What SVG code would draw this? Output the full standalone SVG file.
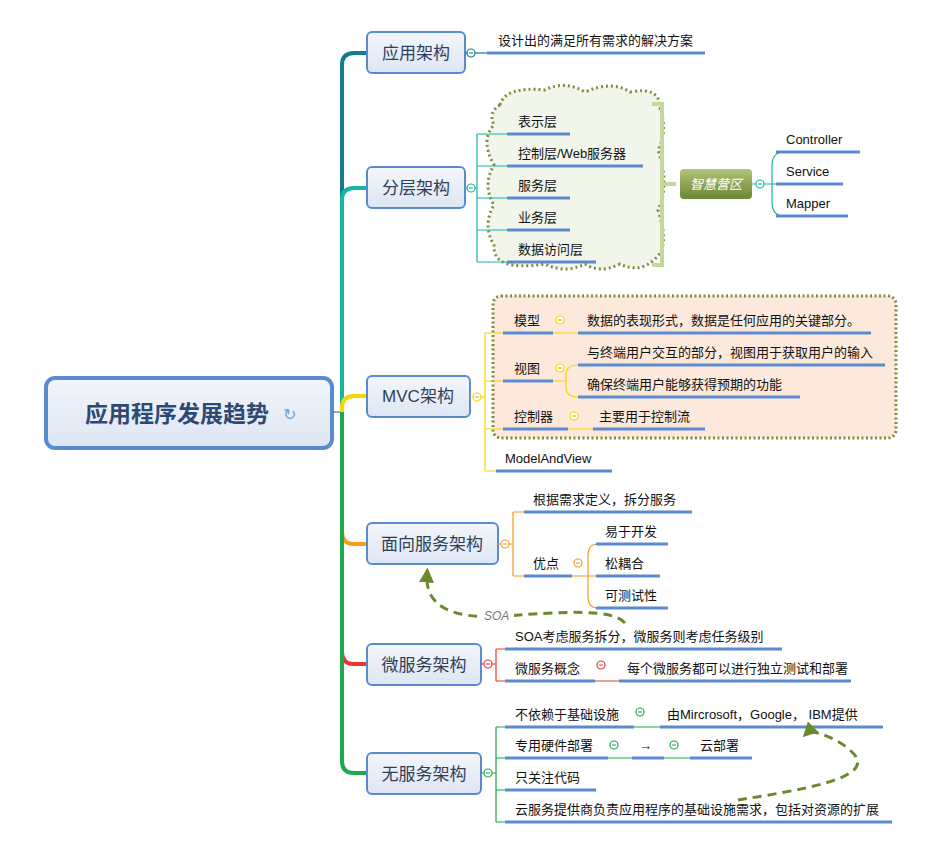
<svg xmlns="http://www.w3.org/2000/svg" width="951" height="845" viewBox="0 0 951 845">
<defs>
<linearGradient id="nodeG" x1="0" y1="0" x2="0" y2="1"><stop offset="0" stop-color="#f3f6fb"/><stop offset="1" stop-color="#dde6f3"/></linearGradient>
<linearGradient id="zhG" x1="0" y1="0" x2="0" y2="1"><stop offset="0" stop-color="#b2c37a"/><stop offset="1" stop-color="#6c8732"/></linearGradient>
<marker id="arr" viewBox="0 0 10 10" refX="5" refY="5" markerWidth="5" markerHeight="5" orient="auto"><path d="M0,0 L10,5 L0,10 z" fill="#6b8a2e"/></marker>
</defs>
<style>
text{font-family:"Liberation Sans","Noto Sans CJK SC",sans-serif;fill:#111;}
.t{font-size:13px;}
.n{font-size:17px;fill:#2f3f5a;text-anchor:middle;}
.box{fill:url(#nodeG);stroke:#5a8ad0;stroke-width:2;}
.ul{stroke:#5a8ad0;stroke-width:3;fill:none;}
.c{fill:#fff;stroke-width:1.2;}
.ln{fill:none;stroke-width:1.2;}
.dash{fill:none;stroke:#6b8a2e;stroke-width:3;stroke-dasharray:9,6;}
</style>
<rect width="951" height="845" fill="#fff"/>
<g id="connectors">
<path d="M333,412 H342" stroke="#5a8ad0" stroke-width="1.5" fill="none"/>
<path d="M342,412 V65 Q342,53 354,53 H367" stroke="#137a8f" stroke-width="4" fill="none"/>
<path d="M342,412 V200 Q342,188 354,188 H367" stroke="#16b6a4" stroke-width="4" fill="none"/>
<path d="M342,412 V532 Q342,544 354,544 H367" stroke="#f79a1f" stroke-width="4" fill="none"/>
<path d="M342,412 V652 Q342,664 354,664 H367" stroke="#ee3333" stroke-width="4" fill="none"/>
<path d="M342,412 V761 Q342,773 354,773 H367" stroke="#1ba94c" stroke-width="4" fill="none"/>
<path d="M342,412 V408 Q342,396 354,396 H367" stroke="#f5d800" stroke-width="4" fill="none"/>
</g>
<g id="root">
<rect x="46" y="378" width="286" height="70" rx="9" fill="url(#nodeG)" stroke="#5a8ad0" stroke-width="4"/>
<text x="177" y="422" style="font-size:23px;font-weight:bold;fill:#2d4a75;text-anchor:middle">应用程序发展趋势</text>
<text x="289" y="420" style="font-size:16px;fill:#6a9ee0;text-anchor:middle">↻</text>
</g>
<g id="n1">
<rect class="box" x="367" y="32" width="98" height="41" rx="5"/>
<text class="n" x="416" y="59">应用架构</text>
<path class="ln" stroke="#137a8f" d="M465,53 H487"/>
<circle class="c" stroke="#137a8f" cx="471" cy="53" r="4"/><path d="M469,53 h4" stroke="#137a8f"/>
<line class="ul" x1="487" y1="53" x2="705" y2="53"/>
<text class="t" x="498" y="45">设计出的满足所有需求的解决方案</text>
</g>
<g id="n2">
<path d="M500,105 Q505,86 545,90 Q565,80 585,92 Q612,80 630,92 Q660,86 660,108 Q668,130 658,150 Q670,185 658,210 Q670,245 656,258 Q640,274 620,264 Q600,274 585,264 Q565,274 545,264 Q492,272 494,245 Q482,225 494,205 Q482,185 494,165 Q480,140 494,125 Q488,112 500,105 z" fill="#f2f6ea" stroke="#7f8c3a" stroke-width="3" stroke-dasharray="2,3"/>
<rect class="box" x="367" y="167" width="98" height="41" rx="5"/>
<text class="n" x="416" y="194">分层架构</text>
<path class="ln" stroke="#16b6a4" d="M465,188 H477 M477,134 V262 M477,134 H507 M477,166 H507 M477,198 H507 M477,230 H507 M477,262 H507"/>
<circle class="c" stroke="#16b6a4" cx="471" cy="188" r="4"/><path d="M469,188 h4" stroke="#16b6a4"/>
<line class="ul" x1="507" y1="134" x2="570" y2="134"/>
<line class="ul" x1="507" y1="166" x2="643" y2="166"/>
<line class="ul" x1="507" y1="198" x2="570" y2="198"/>
<line class="ul" x1="507" y1="230" x2="570" y2="230"/>
<line class="ul" x1="507" y1="262" x2="596" y2="262"/>
<text class="t" x="518" y="126">表示层</text>
<text class="t" x="518" y="158">控制层/Web服务器</text>
<text class="t" x="518" y="190">服务层</text>
<text class="t" x="518" y="222">业务层</text>
<text class="t" x="518" y="254">数据访问层</text>
<path d="M652,104 H662 V265 H652 M662,184 H676" fill="none" stroke="#c4d89a" stroke-width="4"/>
<rect x="680" y="169" width="72" height="30" rx="4" fill="url(#zhG)"/>
<text x="716" y="189" style="font-size:13px;font-style:italic;fill:#fff;text-anchor:middle">智慧营区</text>
<path class="ln" stroke="#16b6a4" d="M752,184 H772 M784,152 Q772,152 772,166 V202 Q772,216 784,216 M772,184 H778"/>
<circle class="c" stroke="#16b6a4" cx="760" cy="184" r="4"/><path d="M758,184 h4" stroke="#16b6a4"/>
<line class="ul" x1="776" y1="152" x2="860" y2="152"/>
<line class="ul" x1="776" y1="184" x2="843" y2="184"/>
<line class="ul" x1="776" y1="216" x2="848" y2="216"/>
<text class="t" x="786" y="144">Controller</text>
<text class="t" x="786" y="176">Service</text>
<text class="t" x="786" y="208">Mapper</text>
</g>
<g id="n3">
<rect x="493" y="296" width="403" height="142" rx="8" fill="#fde9db" stroke="#7f8c3a" stroke-width="3" stroke-dasharray="2,2.5"/>
<rect class="box" x="367" y="376" width="103" height="41" rx="5"/>
<text class="n" x="418" y="402">MVC架构</text>
<path class="ln" stroke="#f5d800" d="M470,397 H485 M485,333 V471 M485,333 H503 M485,381 H503 M485,429 H503 M485,471 H496 M553,333 H578 M553,381 H566 M578,365 Q566,365 566,375 V387 Q566,397 578,397 M568,429 H593"/>
<circle class="c" stroke="#f5d800" cx="477" cy="397" r="4"/><path d="M475,397 h4" stroke="#e0b800"/>
<line class="ul" x1="503" y1="333" x2="553" y2="333"/>
<line class="ul" x1="578" y1="333" x2="871" y2="333"/>
<line class="ul" x1="503" y1="381" x2="553" y2="381"/>
<line class="ul" x1="578" y1="365" x2="885" y2="365"/>
<line class="ul" x1="578" y1="397" x2="800" y2="397"/>
<line class="ul" x1="503" y1="429" x2="568" y2="429"/>
<line class="ul" x1="593" y1="429" x2="705" y2="429"/>
<line class="ul" x1="496" y1="471" x2="612" y2="471"/>
<circle class="c" stroke="#f5d800" cx="560" cy="320" r="4"/><path d="M558,320 h4" stroke="#e0b800"/>
<circle class="c" stroke="#f5d800" cx="560" cy="368" r="4"/><path d="M558,368 h4" stroke="#e0b800"/>
<circle class="c" stroke="#f5d800" cx="574" cy="416" r="4"/><path d="M572,416 h4" stroke="#e0b800"/>
<text class="t" x="514" y="325">模型</text>
<text class="t" x="587" y="325">数据的表现形式，数据是任何应用的关键部分。</text>
<text class="t" x="514" y="373">视图</text>
<text class="t" x="587" y="357">与终端用户交互的部分，视图用于获取用户的输入</text>
<text class="t" x="587" y="389">确保终端用户能够获得预期的功能</text>
<text class="t" x="514" y="421">控制器</text>
<text class="t" x="599" y="421">主要用于控制流</text>
<text class="t" x="505" y="463">ModelAndView</text>
</g>
<g id="n4">
<rect class="box" x="367" y="523" width="131" height="41" rx="5"/>
<text class="n" x="432" y="550">面向服务架构</text>
<path class="ln" stroke="#f79a1f" d="M498,544 H513 M513,512 V576 M513,512 H524 M513,576 H524 M572,576 H596 M598,544 Q588,544 588,556 V596 Q588,608 598,608"/>
<circle class="c" stroke="#f79a1f" cx="505" cy="544" r="4"/><path d="M503,544 h4" stroke="#f79a1f"/>
<line class="ul" x1="524" y1="512" x2="692" y2="512"/>
<line class="ul" x1="524" y1="576" x2="572" y2="576"/>
<line class="ul" x1="596" y1="544" x2="668" y2="544"/>
<line class="ul" x1="596" y1="576" x2="660" y2="576"/>
<line class="ul" x1="596" y1="608" x2="668" y2="608"/>
<circle class="c" stroke="#f79a1f" cx="578" cy="563" r="4"/><path d="M576,563 h4" stroke="#f79a1f"/>
<text class="t" x="533" y="504">根据需求定义，拆分服务</text>
<text class="t" x="533" y="568">优点</text>
<text class="t" x="605" y="536">易于开发</text>
<text class="t" x="605" y="568">松耦合</text>
<text class="t" x="605" y="600">可测试性</text>
</g>
<g id="n5">
<rect class="box" x="367" y="644" width="114" height="41" rx="5"/>
<text class="n" x="424" y="671">微服务架构</text>
<path class="ln" stroke="#ee3333" d="M481,664 H496 M496,649 V681 M496,649 H505 M496,681 H505 M595,681 H619"/>
<circle class="c" stroke="#ee3333" cx="488" cy="664" r="4"/><path d="M486,664 h4" stroke="#ee3333"/>
<line class="ul" x1="505" y1="649" x2="782" y2="649"/>
<line class="ul" x1="505" y1="681" x2="595" y2="681"/>
<line class="ul" x1="619" y1="681" x2="851" y2="681"/>
<circle class="c" stroke="#ee3333" cx="601" cy="665" r="4"/><path d="M599,665 h4" stroke="#ee3333"/>
<text class="t" x="515" y="641">SOA考虑服务拆分，微服务则考虑任务级别</text>
<text class="t" x="515" y="673">微服务概念</text>
<text class="t" x="627" y="673">每个微服务都可以进行独立测试和部署</text>
</g>
<g id="n6">
<rect class="box" x="367" y="753" width="114" height="41" rx="5"/>
<text class="n" x="424" y="780">无服务架构</text>
<path class="ln" stroke="#1ba94c" d="M481,773 H496 M496,727 V822 M496,727 H505 M496,758 H505 M496,790 H505 M496,822 H505 M634,727 H660 M608,758 H632 M664,758 H690"/>
<circle class="c" stroke="#1ba94c" cx="488" cy="773" r="4"/><path d="M486,773 h4" stroke="#1ba94c"/>
<line class="ul" x1="505" y1="727" x2="634" y2="727"/>
<line class="ul" x1="660" y1="727" x2="883" y2="727"/>
<line class="ul" x1="505" y1="758" x2="608" y2="758"/>
<line class="ul" x1="632" y1="758" x2="664" y2="758"/>
<line class="ul" x1="690" y1="758" x2="752" y2="758"/>
<line class="ul" x1="505" y1="790" x2="596" y2="790"/>
<line class="ul" x1="505" y1="822" x2="892" y2="822"/>
<circle class="c" stroke="#1ba94c" cx="640" cy="712" r="4"/><path d="M638,712 h4" stroke="#1ba94c"/>
<circle class="c" stroke="#1ba94c" cx="614" cy="745" r="4"/><path d="M612,745 h4" stroke="#1ba94c"/>
<circle class="c" stroke="#1ba94c" cx="674" cy="745" r="4"/><path d="M672,745 h4" stroke="#1ba94c"/>
<text class="t" x="515" y="719">不依赖于基础设施</text>
<text class="t" x="667" y="719">由Mircrosoft，Google， IBM提供</text>
<text class="t" x="515" y="750">专用硬件部署</text>
<text class="t" x="639" y="750">→</text>
<text class="t" x="700" y="750">云部署</text>
<text class="t" x="515" y="782">只关注代码</text>
<text class="t" x="515" y="814">云服务提供商负责应用程序的基础设施需求，包括对资源的扩展</text>
</g>
<g id="relations">
<path class="dash" d="M625,623 C612,608 560,612 505,616 C450,620 425,605 427,575" marker-end="url(#arr)"/>
<rect x="482" y="608" width="32" height="14" fill="#fff"/>
<text x="484" y="620" style="font-size:12px;font-style:italic;fill:#777">SOA</text>
<path class="dash" d="M738,800 C800,790 880,778 852,752 C836,736 810,730 808,732" marker-end="url(#arr)"/>
</g>
</svg>
